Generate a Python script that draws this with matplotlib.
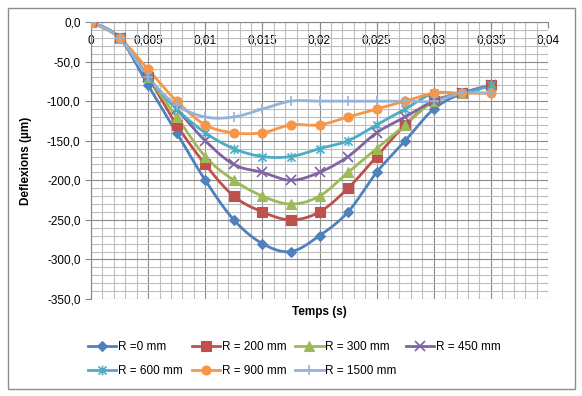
import numpy as np
import matplotlib
matplotlib.use("Agg")
import matplotlib.pyplot as plt
from matplotlib.path import Path
from matplotlib.patches import Rectangle
from matplotlib.ticker import MultipleLocator, FuncFormatter

plt.rcParams['font.family'] = ['Liberation Sans', 'DejaVu Sans']

# temps (s)
temps = [0, 0.0025, 0.005, 0.0075, 0.01, 0.0125, 0.015, 0.0175,
         0.02, 0.0225, 0.025, 0.0275, 0.03, 0.0325, 0.035]

# deflexions (µm) par rayon
r0 = [0, -20, -80, -140, -200, -250, -280, -290, -270, -240, -190, -150, -110, -90, -80]
r200 = [0, -20, -70, -130, -180, -220, -240, -250, -240, -210, -170, -130, -100, -90, -80]
r300 = [0, -20, -70, -120, -170, -200, -220, -230, -220, -190, -160, -130, -100, -90, -80]
r450 = [0, -20, -70, -110, -150, -180, -190, -200, -190, -170, -140, -120, -100, -90, -80]
r600 = [0, -20, -70, -110, -140, -160, -170, -170, -160, -150, -130, -110, -90, -90, -80]
r900 = [0, -20, -60, -100, -130, -140, -140, -130, -130, -120, -110, -100, -90, -90, -90]
r1500 = [0, -20, -70, -105, -120, -120, -110, -100, -100, -100, -100, -100, -100, -90, -90]

labels = ["R =0 mm", "R = 200 mm", "R = 300 mm", "R = 450 mm",
          "R = 600 mm", "R = 900 mm", "R = 1500 mm"]
couleurs = ["#4F81BD", "#C0504D", "#9BBB59", "#8064A2",
            "#4BACC6", "#F79646", "#95B3D7"]

# asterisque style Excel
star = Path([(-1, -1), (1, 1), (-1, 1), (1, -1), (0, -1.2), (0, 1.2)],
            [Path.MOVETO, Path.LINETO, Path.MOVETO, Path.LINETO, Path.MOVETO, Path.LINETO])
marqueurs = ["D", "s", "^", "x", star, "o", "+"]
tailles = [5, 6.5, 7, 6.5, 7, 6.5, 7]


def lisser(x, y, n=20):
    # courbe lissee type Excel (Catmull-Rom)
    p = np.column_stack([x, y]).astype(float)
    p = np.vstack([p[0], p, p[-1]])
    out = []
    t = np.linspace(0, 1, n)[:, None]
    for i in range(1, len(p) - 2):
        p0, p1, p2, p3 = p[i - 1], p[i], p[i + 1], p[i + 2]
        c1 = p1 + (p2 - p0) / 6
        c2 = p2 - (p3 - p1) / 6
        seg = ((1 - t) ** 3) * p1 + 3 * ((1 - t) ** 2) * t * c1 + 3 * (1 - t) * t ** 2 * c2 + t ** 3 * p2
        out.append(seg if i == 1 else seg[1:])
    out = np.vstack(out)
    return out[:, 0], out[:, 1]


fig = plt.figure(figsize=(5.82, 3.96), dpi=100)
fig.patches.append(Rectangle((8 / 582, 1 - 389 / 396), 567 / 582, 381 / 396,
                             transform=fig.transFigure, fill=False,
                             edgecolor="#8C8C8C", linewidth=1))
ax = fig.add_axes([91 / 582, 1 - 299 / 396, 457 / 582, 277 / 396])

series = [r0, r200, r300, r450, r600, r900, r1500]
handles = []
for vals, lab, c, m, ms in zip(series, labels, couleurs, marqueurs, tailles):
    fin = m in ("x", "+") or m is star
    xs, ys = lisser(temps, vals)
    ax.plot(xs, ys, color=c, lw=2, zorder=3, solid_capstyle="round")
    ax.plot(temps, vals, ls="none", marker=m, ms=ms, color=c,
            mec=c, mew=1.2 if fin else 0.8, zorder=4)
    h, = ax.plot([], [], color=c, lw=2, marker=m, ms=ms, mec=c,
                 mew=1.2 if fin else 0.8)
    handles.append(h)

ax.set_xlim(0, 0.04)
ax.set_ylim(-350, 0)
ax.xaxis.set_major_locator(MultipleLocator(0.005))
ax.xaxis.set_minor_locator(MultipleLocator(0.001))
ax.yaxis.set_major_locator(MultipleLocator(50))
ax.yaxis.set_minor_locator(MultipleLocator(10))
ax.xaxis.set_major_formatter(FuncFormatter(lambda v, p: ("%g" % round(v, 4)).replace(".", ",")))
ax.yaxis.set_major_formatter(FuncFormatter(lambda v, p: ("%.1f" % v).replace(".", ",")))

ax.grid(True, which="major", color="#8C8C8C", lw=0.8, zorder=1)
ax.grid(True, which="minor", color="#BDBDBD", lw=0.8, zorder=1)
ax.set_axisbelow(True)

ax.spines["bottom"].set_position(("data", 0))
ax.spines["top"].set_visible(False)
ax.spines["right"].set_visible(False)
for s in ("bottom", "left"):
    ax.spines[s].set_color("#868686")
    ax.spines[s].set_zorder(2)
ax.tick_params(axis="both", which="major", labelsize=8.5, color="#868686", length=4)
ax.tick_params(axis="both", which="minor", length=0)
ax.tick_params(axis="x", pad=5)

ax.set_xlabel("Temps (s)", fontsize=8.5, fontweight="bold")
ax.xaxis.set_label_coords(0.5, -0.025)
ax.set_ylabel("Deflexions (µm)", fontsize=8.5, fontweight="bold")
ax.yaxis.set_label_coords(-0.13, 0.5)

ordre = [0, 4, 1, 5, 2, 6, 3]
fig.legend([handles[i] for i in ordre], [labels[i] for i in ordre],
           loc="upper left", bbox_to_anchor=(88 / 582, 1 - 341 / 396),
           ncol=4, frameon=False, fontsize=8.5, borderpad=0, borderaxespad=0,
           handlelength=2.4, handletextpad=0.15, columnspacing=0.75,
           labelspacing=1.0)

fig.savefig("out.png", dpi=100)
